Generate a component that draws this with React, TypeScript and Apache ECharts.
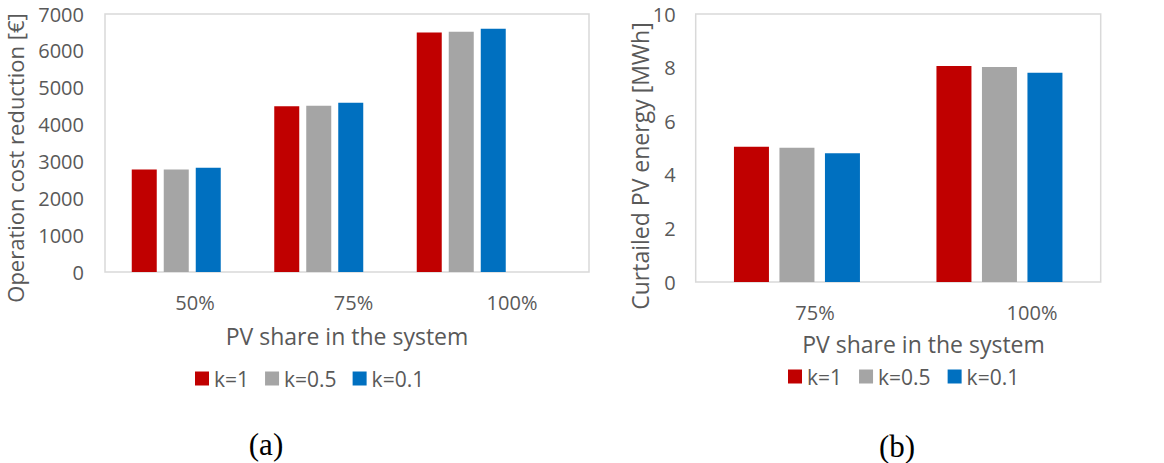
import React, { useEffect, useRef } from "react";
import * as echarts from "echarts";

const seriesNames = ["k=1", "k=0.5", "k=0.1"];
const colors = ["#C00000", "#A5A5A5", "#0070C0"];

const catsA = ["50%", "75%", "100%"];
const costK1 = [2780, 4500, 6500];
const costK05 = [2780, 4510, 6520];
const costK01 = [2830, 4590, 6600];

const catsB = ["75%", "100%"];
const curtK1 = [5.05, 8.06];
const curtK05 = [5.01, 8.02];
const curtK01 = [4.8, 7.81];

const FONT = "'Open Sans', sans-serif";
const GREY = "#595959";
const BORDER = "#D9D9D9";
const TICK = 20;
const TITLE = 23;
const LEG = 21;

export default function App() {
  const ref = useRef<HTMLDivElement>(null);
  useEffect(() => {
    if (!ref.current) return;
    const chart = echarts.init(ref.current, null, { renderer: "svg" });
    const hiddenX = (cats: string[], gridIndex: number) => ({
      type: "category",
      gridIndex,
      data: cats,
      show: false,
    });
    const hiddenY = (gridIndex: number, max: number) => ({
      type: "value",
      gridIndex,
      min: 0,
      max,
      show: false,
    });
    const nameOnlyY = (gridIndex: number, max: number, name: string, nameGap: number, size: number) => ({
      type: "value",
      gridIndex,
      min: 0,
      max,
      axisLine: { show: false },
      axisTick: { show: false },
      axisLabel: { show: false },
      splitLine: { show: false },
      name,
      nameLocation: "middle",
      nameGap,
      nameTextStyle: { fontFamily: FONT, fontSize: size, color: GREY },
    });
    const barsA = [costK1, costK05, costK01].map((d, i) => ({
      type: "bar",
      name: seriesNames[i],
      data: d,
      xAxisIndex: 1,
      yAxisIndex: 1,
      barWidth: 25,
      barGap: "28%",
      itemStyle: { color: colors[i] },
    }));
    const barsB = [curtK1, curtK05, curtK01].map((d, i) => ({
      type: "bar",
      name: seriesNames[i],
      data: d,
      xAxisIndex: 3,
      yAxisIndex: 3,
      barWidth: 35,
      barGap: "30%",
      itemStyle: { color: colors[i] },
    }));
    const legendBase = {
      icon: "rect",
      itemWidth: 14,
      itemHeight: 14,
      padding: 0,
      textStyle: { fontFamily: FONT, fontSize: LEG, color: GREY },
      data: seriesNames,
    };
    const nb = { outerBoundsMode: "none" };
    chart.setOption({
      animation: false,
      textStyle: { fontFamily: FONT },
      grid: [
        { ...nb, left: 105, top: 14, width: 484, height: 258, show: true, borderColor: BORDER, borderWidth: 1.5 },
        { ...nb, left: 105, top: 14, width: 427.5, height: 258 },
        { ...nb, left: 115.75, top: 44, width: 475.5, height: 228 },
        { ...nb, left: 695.7, top: 14, width: 405, height: 268, show: true, borderColor: BORDER, borderWidth: 1.5 },
        { ...nb, left: 706.5, top: 50, width: 434, height: 232 },
      ],
      xAxis: [
        {
          type: "category",
          gridIndex: 0,
          data: catsA,
          axisLine: { show: false },
          axisTick: { show: false },
          axisLabel: { show: false },
          name: "PV share in the system",
          nameLocation: "middle",
          nameGap: 52,
          nameTextStyle: { fontFamily: FONT, fontSize: TITLE, color: GREY },
        },
        hiddenX(catsA, 1),
        {
          type: "category",
          gridIndex: 2,
          data: catsA,
          axisLine: { show: false },
          axisTick: { show: false },
          axisLabel: { fontFamily: FONT, fontSize: TICK, color: GREY, margin: 20 },
        },
        hiddenX(catsB, 3),
        {
          type: "category",
          gridIndex: 4,
          data: catsB,
          axisLine: { show: false },
          axisTick: { show: false },
          axisLabel: { fontFamily: FONT, fontSize: TICK, color: GREY, margin: 20 },
          name: "PV share in the system",
          nameLocation: "middle",
          nameGap: 50,
          nameTextStyle: { fontFamily: FONT, fontSize: TITLE, color: GREY },
        },
      ],
      yAxis: [
        {
          type: "value",
          gridIndex: 0,
          min: 0,
          max: 7000,
          interval: 1000,
          axisLine: { show: false },
          axisTick: { show: false },
          splitLine: { show: false },
          axisLabel: { fontFamily: FONT, fontSize: TICK, color: GREY, margin: 21, formatter: (v: number) => String(v) },
        },
        hiddenY(1, 7000),
        nameOnlyY(2, 7000, "Operation cost reduction [€]", 90, 22),
        {
          type: "value",
          gridIndex: 3,
          min: 0,
          max: 10,
          interval: 2,
          axisLine: { show: false },
          axisTick: { show: false },
          splitLine: { show: false },
          axisLabel: { fontFamily: FONT, fontSize: TICK, color: GREY, margin: 20 },
        },
        nameOnlyY(4, 10, "Curtailed PV energy [MWh]", 55, TITLE),
      ],
      legend: [
        { ...legendBase, left: 195, top: 368, itemGap: 16 },
        { ...legendBase, left: 788, top: 366, itemGap: 17 },
      ],
      graphic: [
        {
          type: "text",
          x: 266,
          y: 444,
          style: {
            text: "(a)",
            font: "31px 'Liberation Serif', serif",
            fill: "#000",
            textAlign: "center",
            textVerticalAlign: "middle",
          },
        },
        {
          type: "text",
          x: 897,
          y: 446,
          style: {
            text: "(b)",
            font: "31px 'Liberation Serif', serif",
            fill: "#000",
            textAlign: "center",
            textVerticalAlign: "middle",
          },
        },
      ],
      series: [...barsA, ...barsB],
    });
    return () => chart.dispose();
  }, []);
  return (
    <div
      ref={ref}
      style={{ position: "absolute", left: 0, top: 0, width: 1164, height: 463, background: "#fff" }}
    />
  );
}
